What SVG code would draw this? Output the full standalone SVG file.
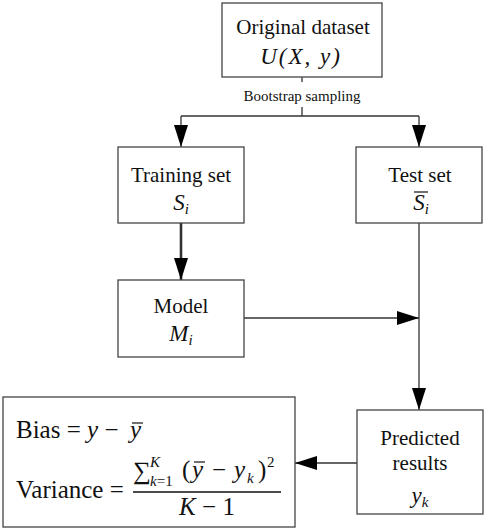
<svg xmlns="http://www.w3.org/2000/svg" width="484" height="530" viewBox="0 0 484 530">
<defs>
<style>
.box{fill:#fff;stroke:#444;stroke-width:1.3}
.t{font-family:"Liberation Serif",serif;font-size:21px;fill:#111;text-anchor:middle}
.m{font-family:"Liberation Serif",serif;font-style:italic;font-size:23px;fill:#111}
.f{font-family:"Liberation Serif",serif;font-size:25px;fill:#111}
.s{font-family:"Liberation Serif",serif;font-size:15px;fill:#111}
.c{fill:none;stroke:#333;stroke-width:1.3}
</style>
<marker id="ah" markerWidth="22" markerHeight="14" refX="22" refY="7" orient="auto" markerUnits="userSpaceOnUse">
<path d="M0,0 L22,7 L0,14 Z" fill="#000"/>
</marker>
</defs>
<rect width="484" height="530" fill="#fff"/>
<g id="connectors">
<path class="c" d="M302,77 V82"/>
<path class="c" d="M302,107 V116"/>
<path class="c" d="M181,116 H419"/>
<path class="c" d="M181,116 V147" marker-end="url(#ah)"/>
<path class="c" d="M419,116 V147" marker-end="url(#ah)"/>
<path class="c" d="M181,223 V280" style="stroke-width:2.6" marker-end="url(#ah)"/>
<path class="c" d="M244,318 H419" marker-end="url(#ah)"/>
<path class="c" d="M419,223 V410" marker-end="url(#ah)"/>
<path class="c" d="M357,463 H295" marker-end="url(#ah)"/>
<text class="t" x="302" y="101" style="font-size:15px">Bootstrap sampling</text>
</g>
<g id="original">
<rect class="box" x="222" y="3" width="160" height="74"/>
<text class="t" x="303" y="34">Original dataset</text>
<text class="m" x="301" y="64" text-anchor="middle" letter-spacing="2">U(X, y)</text>
</g>
<g id="training">
<rect class="box" x="118" y="147" width="126" height="76"/>
<text class="t" x="181" y="182">Training set</text>
<text class="m" x="181" y="210" text-anchor="middle">S<tspan font-size="15" dy="4">i</tspan></text>
</g>
<g id="test">
<rect class="box" x="356" y="147" width="126" height="76"/>
<text class="t" x="420" y="182">Test set</text>
<text class="m" x="421" y="210" text-anchor="middle">S<tspan font-size="15" dy="4">i</tspan></text>
<path d="M414,192 H428" stroke="#111" stroke-width="1.2"/>
</g>
<g id="model">
<rect class="box" x="118" y="280" width="126" height="77"/>
<text class="t" x="181" y="313">Model</text>
<text class="m" x="181" y="341" text-anchor="middle">M<tspan font-size="15" dy="4">i</tspan></text>
</g>
<g id="predicted">
<rect class="box" x="357" y="410" width="126" height="104"/>
<text class="t" x="420" y="445">Predicted</text>
<text class="t" x="420" y="470">results</text>
<text class="m" x="420" y="503" text-anchor="middle">y<tspan font-size="15" dy="4">k</tspan></text>
</g>
<g id="formula">
<rect class="box" x="3" y="397" width="292" height="130"/>
<text class="f" x="16" y="438">Bias = <tspan font-style="italic">y</tspan> −</text>
<text class="f" x="130" y="438" font-style="italic">y</text>
<path d="M132,423 H143" stroke="#111" stroke-width="1.2"/>
<text class="f" x="16" y="498">Variance =</text>
<text class="f" x="133" y="479">∑</text>
<text class="s" x="150" y="467" font-style="italic">K</text>
<text class="s" x="150" y="486"><tspan font-style="italic">k</tspan>=1</text>
<text class="f" x="182" y="478">(</text>
<text class="f" x="192" y="478" font-style="italic">y</text>
<path d="M194,462 H205" stroke="#111" stroke-width="1.2"/>
<text class="f" x="212" y="478">−</text>
<text class="f" x="234" y="478" font-style="italic">y</text>
<text class="s" x="247" y="483" font-style="italic">k</text>
<text class="f" x="258" y="478">)</text>
<text class="s" x="267" y="467">2</text>
<path d="M133,492 H281" stroke="#111" stroke-width="1.3"/>
<text class="f" x="207" y="515" text-anchor="middle"><tspan font-style="italic">K</tspan> − 1</text>
</g>
</svg>
